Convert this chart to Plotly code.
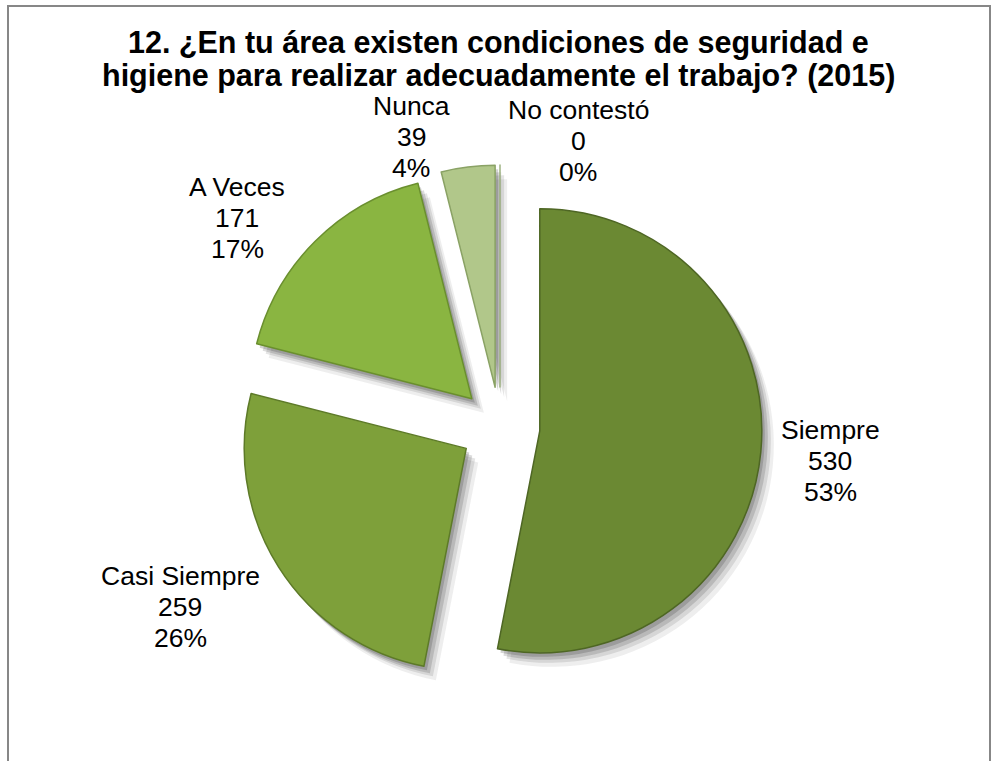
import plotly.graph_objects as go

# Survey answers, question 12 (2015)
categories = ["Siempre", "Casi Siempre", "A Veces", "Nunca", "No contestó"]
counts = [530, 259, 171, 39, 0]
percent_labels = ["53%", "26%", "17%", "4%", "0%"]

title_lines = [
    "12. ¿En tu área existen condiciones de seguridad e",
    "higiene para realizar adecuadamente el trabajo? (2015)",
]

slice_colors = ["#6b8933", "#7ea03a", "#8ab541", "#b1c78a", "#c9d9ad"]
edge_colors = ["#4e6624", "#5d7a28", "#6a8f2e", "#8aa265", "#9fb383"]

W, H = 992, 761
FONT = "Liberation Sans, Arial, sans-serif"

# pie placement in pixels (centre and half-size of the domain)
cx, cy, half = 500, 427, 262
pull = 0.18


def domain(dx=0, dy=0):
    x0 = (cx + dx - half) / W
    x1 = (cx + dx + half) / W
    y0 = 1 - (cy + dy + half) / H
    y1 = 1 - (cy + dy - half) / H
    return dict(x=[x0, x1], y=[y0, y1])


def text_line(fig, text, x_px, baseline_px, size, bold=False):
    """Place one line of centred text with its baseline at the given pixel row."""
    fig.add_annotation(
        x=x_px / W, y=1 - (baseline_px - 0.36 * size) / H,
        xref="paper", yref="paper", text=f"<b>{text}</b>" if bold else text,
        showarrow=False, xanchor="center", yanchor="middle", align="center",
        font=dict(family=FONT, size=size, color="#000000"),
    )


fig = go.Figure()

# soft drop shadow: a few translucent copies offset down-right
for (dx, dy, a) in [(12, 14, 0.08), (9, 10, 0.12), (6, 7, 0.16), (3, 4, 0.2)]:
    fig.add_trace(go.Pie(
        labels=categories, values=counts, sort=False, direction="clockwise",
        rotation=0, pull=[pull] * len(counts), domain=domain(dx, dy),
        marker=dict(colors=[f"rgba(40,40,40,{a})"] * len(counts),
                    line=dict(width=0)),
        textinfo="none", hoverinfo="skip", showlegend=False,
    ))

fig.add_trace(go.Pie(
    labels=categories, values=counts, sort=False, direction="clockwise",
    rotation=0, pull=[pull] * len(counts), domain=domain(),
    marker=dict(colors=slice_colors, line=dict(color=edge_colors, width=1.5)),
    textinfo="none", showlegend=False,
))

# data labels: category, count and share, one line each
label_pos = {
    "Siempre": (830, 440),
    "Casi Siempre": (180, 586),
    "A Veces": (237, 197),
    "Nunca": (411, 116),
    "No contestó": (578, 120),
}
line_gap = 31
label_size = 26.5
for cat, n, pct in zip(categories, counts, percent_labels):
    px, base = label_pos[cat]
    for i, line in enumerate([cat, str(n), pct]):
        text_line(fig, line, px, base + i * line_gap, label_size)

# title, two lines
for line, base in zip(title_lines, [53, 86]):
    text_line(fig, line, 498, base, 30.5, bold=True)

# chart frame
fig.add_shape(type="rect", xref="paper", yref="paper",
              x0=8 / W, x1=990 / W, y0=-0.05, y1=1 - 6 / H,
              line=dict(color="#878787", width=2), fillcolor="rgba(0,0,0,0)")

fig.update_layout(
    width=W, height=H,
    margin=dict(l=0, r=0, t=0, b=0),
    paper_bgcolor="white", plot_bgcolor="white",
)

fig.write_html("out.html")
